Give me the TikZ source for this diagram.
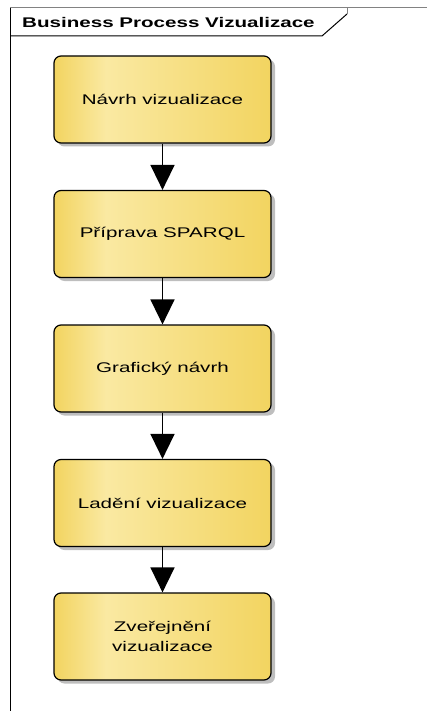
\documentclass[tikz,border=0pt]{standalone}
\usepackage{fontspec}
\setmainfont{Liberation Sans}
\newfontfamily\stretchfont[FakeStretch=1.47]{Liberation Sans}
\usetikzlibrary{arrows.meta}
\definecolor{ydark}{RGB}{242,212,96}
\definecolor{ylight}{RGB}{250,233,162}
\definecolor{shadowgray}{RGB}{190,190,190}
\definecolor{framegray}{RGB}{130,130,130}
\pgfdeclarehorizontalshading{boxshade}{100bp}{color(0bp)=(ydark); color(25bp)=(ydark); color(37bp)=(ylight); color(75bp)=(ydark); color(100bp)=(ydark)}
\tikzset{
  actbox/.style={draw=black, line width=1.2pt, rounded corners=7pt, shading=boxshade,
    minimum width=217pt, minimum height=87pt, inner sep=0pt, align=center,
    font=\stretchfont\fontsize{14pt}{19.5pt}\selectfont},
  shadowbox/.style={fill=shadowgray, rounded corners=7pt},
  flow/.style={line width=1.5pt, -{Triangle[width=24pt,length=25pt]}},
  frameline/.style={line width=1pt}
}
\begin{document}
\begin{tikzpicture}[x=1pt,y=-1pt]
\useasboundingbox (0,0) rectangle (427,711);
% frame
\draw[frameline, framegray] (10,8) -- (427,8);
\draw[frameline] (10,8) -- (10,711);
\draw[frameline] (10,36) -- (322,36) -- (347,14);
\draw[frameline, framegray] (347,14) -- (347,8);
\node[anchor=base west, inner sep=0pt, font=\stretchfont\bfseries\fontsize{14pt}{16pt}\selectfont] (title) at (22,27.5) {Business Process Vizualizace};
% shadows
\foreach \t in {56,190.5,325,459.5,593}{
  \fill[shadowbox] (57.5,\t+3.5) rectangle (275,\t+90.5);
}
% boxes
\node[actbox] (a) at (162.5,99.5) {Návrh vizualizace};
\node[actbox] (b) at (162.5,234) {Příprava SPARQL};
\node[actbox] (c) at (162.5,368.5) {Grafický návrh};
\node[actbox] (d) at (162.5,503) {Ladění vizualizace};
\node[actbox] (e) at (162.5,636.5) {Zveřejnění\\vizualizace};
% flows
\draw[flow] (a) -- (b);
\draw[flow] (b) -- (c);
\draw[flow] (c) -- (d);
\draw[flow] (d) -- (e);
\end{tikzpicture}
\end{document}
